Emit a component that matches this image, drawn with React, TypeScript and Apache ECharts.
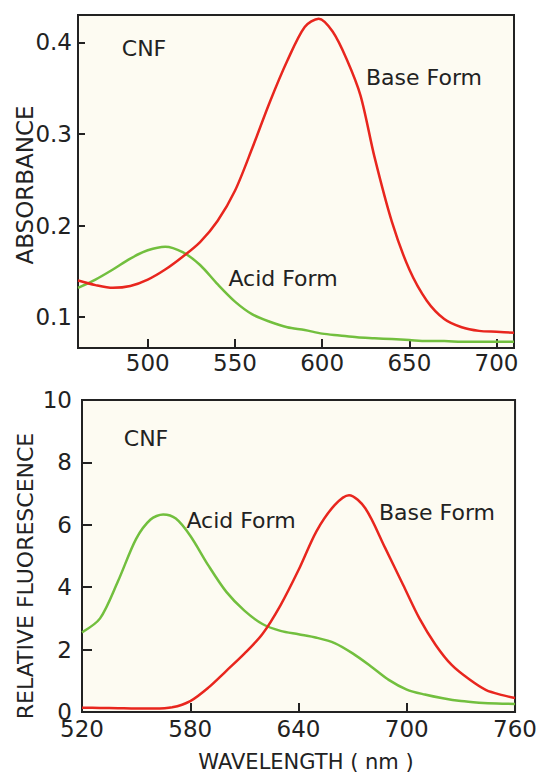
import React, { useEffect, useRef } from "react";
import * as echarts from "echarts";

// Top panel: absorbance vs wavelength (nm)
const absBaseWavelengths = [460, 470, 480, 490, 500, 510, 520, 530, 540, 550, 560, 570, 580, 590, 598, 606, 614, 622, 630, 640, 650, 660, 670, 680, 690, 700, 710];
const absBase = [0.140, 0.135, 0.132, 0.134, 0.141, 0.152, 0.166, 0.182, 0.205, 0.238, 0.285, 0.335, 0.380, 0.417, 0.426, 0.412, 0.382, 0.342, 0.275, 0.204, 0.152, 0.118, 0.098, 0.089, 0.085, 0.084, 0.083];
const absAcidWavelengths = [460, 470, 480, 490, 500, 510, 520, 530, 540, 550, 560, 570, 580, 590, 600, 610, 620, 630, 640, 650, 660, 670, 680, 690, 700, 710];
const absAcid = [0.132, 0.141, 0.152, 0.164, 0.173, 0.177, 0.171, 0.157, 0.136, 0.117, 0.103, 0.095, 0.089, 0.086, 0.082, 0.080, 0.078, 0.077, 0.076, 0.075, 0.074, 0.074, 0.073, 0.073, 0.073, 0.073];
const absTicksY = [0.1, 0.2, 0.3, 0.4];
const absTicksX = [500, 550, 600, 650, 700];

// Bottom panel: relative fluorescence vs wavelength (nm)
const flAcidWavelengths = [520, 530, 540, 550, 558, 565, 572, 580, 590, 600, 610, 620, 630, 640, 650, 660, 670, 680, 690, 700, 710, 720, 730, 740, 750, 760];
const flAcid = [2.55, 3.0, 4.2, 5.55, 6.17, 6.33, 6.2, 5.65, 4.7, 3.85, 3.25, 2.82, 2.6, 2.49, 2.38, 2.21, 1.88, 1.47, 1.03, 0.72, 0.56, 0.44, 0.35, 0.3, 0.27, 0.26];
const flBaseWavelengths = [520, 530, 540, 550, 560, 570, 580, 590, 600, 610, 620, 630, 640, 650, 660, 668, 677, 688, 698, 707, 716, 725, 735, 744, 753, 760];
const flBase = [0.14, 0.13, 0.12, 0.11, 0.11, 0.15, 0.35, 0.78, 1.32, 1.87, 2.5, 3.42, 4.55, 5.8, 6.63, 6.95, 6.53, 5.26, 4.07, 3.0, 2.15, 1.5, 1.03, 0.7, 0.54, 0.45];
const flTicksX = [520, 580, 640, 700, 760];

const zip = (xs: number[], ys: number[]) => xs.map((x, i) => [x, ys[i]]);

const FONT = "DejaVu Sans";
const INK = "#222222";
const RED = "#e8261e";
const GREEN = "#72bf3e";

export default function App() {
  const ref = useRef<HTMLDivElement>(null);
  useEffect(() => {
    if (!ref.current) return;
    const chart = echarts.init(ref.current, null, { renderer: "svg" });
    const axisLine = { show: true, lineStyle: { color: INK, width: 2 } };
    const label = { color: INK, fontFamily: FONT, fontSize: 23, lineHeight: 16 };
    const annot = (x: number, y: number, text: string, size: number, rot = 0) => ({
      type: "text",
      x,
      y,
      rotation: rot,
      style: {
        text,
        fill: INK,
        font: `${size}px "${FONT}"`,
        align: "center",
        verticalAlign: "middle",
      },
    });
    const lineSeries = (xi: number, xs: number[], ys: number[], color: string, z: number) => ({
      type: "line",
      xAxisIndex: xi,
      yAxisIndex: xi,
      data: zip(xs, ys),
      smooth: 0.3,
      showSymbol: false,
      lineStyle: { color, width: 2.5 },
      z,
    });
    chart.setOption({
      animation: false,
      backgroundColor: "#ffffff",
      grid: [
        { left: 78, top: 15, width: 436, height: 333, show: true, borderColor: INK, borderWidth: 2, backgroundColor: "#fdfbf2" },
        { left: 82, top: 400, width: 434, height: 312, show: true, borderColor: INK, borderWidth: 2, backgroundColor: "#fdfbf2" },
      ],
      xAxis: [
        {
          type: "value", gridIndex: 0, min: 460, max: 710,
          axisLine, splitLine: { show: false },
          axisTick: { inside: true, length: 9, lineStyle: { color: INK, width: 2 }, customValues: absTicksX },
          axisLabel: { ...label, margin: 7, customValues: absTicksX },
        },
        {
          type: "value", gridIndex: 1, min: 520, max: 760,
          axisLine, splitLine: { show: false },
          axisTick: { inside: true, length: 9, lineStyle: { color: INK, width: 2 }, customValues: flTicksX },
          axisLabel: { ...label, margin: 9, customValues: flTicksX },
        },
      ],
      yAxis: [
        {
          type: "value", gridIndex: 0, min: 0.0663, max: 0.43,
          axisLine, splitLine: { show: false },
          axisTick: { inside: true, length: 7, lineStyle: { color: INK, width: 2 }, customValues: absTicksY },
          axisLabel: { ...label, margin: 6, customValues: absTicksY, formatter: (v: number) => v.toFixed(1) },
        },
        {
          type: "value", gridIndex: 1, min: 0, max: 10, interval: 2,
          axisLine, splitLine: { show: false },
          axisTick: { inside: true, length: 10, lineStyle: { color: INK, width: 2 } },
          axisLabel: { ...label, margin: 10 },
        },
      ],
      series: [
        lineSeries(0, absAcidWavelengths, absAcid, GREEN, 2),
        lineSeries(0, absBaseWavelengths, absBase, RED, 3),
        lineSeries(1, flAcidWavelengths, flAcid, GREEN, 2),
        lineSeries(1, flBaseWavelengths, flBase, RED, 3),
      ],
      graphic: [
        annot(25, 185, "ABSORBANCE", 23, Math.PI / 2),
        annot(25, 576, "RELATIVE FLUORESCENCE", 22, Math.PI / 2),
        annot(306, 762, "WAVELENGTH ( nm )", 21),
        annot(144, 48, "CNF", 22),
        annot(424, 77, "Base Form", 22),
        annot(283, 278, "Acid Form", 22),
        annot(146, 438, "CNF", 22),
        annot(241, 520, "Acid Form", 22),
        annot(437, 512, "Base Form", 22),
      ],
    });
    return () => chart.dispose();
  }, []);
  return <div ref={ref} style={{ position: "absolute", left: 0, top: 0, width: 540, height: 775 }} />;
}
